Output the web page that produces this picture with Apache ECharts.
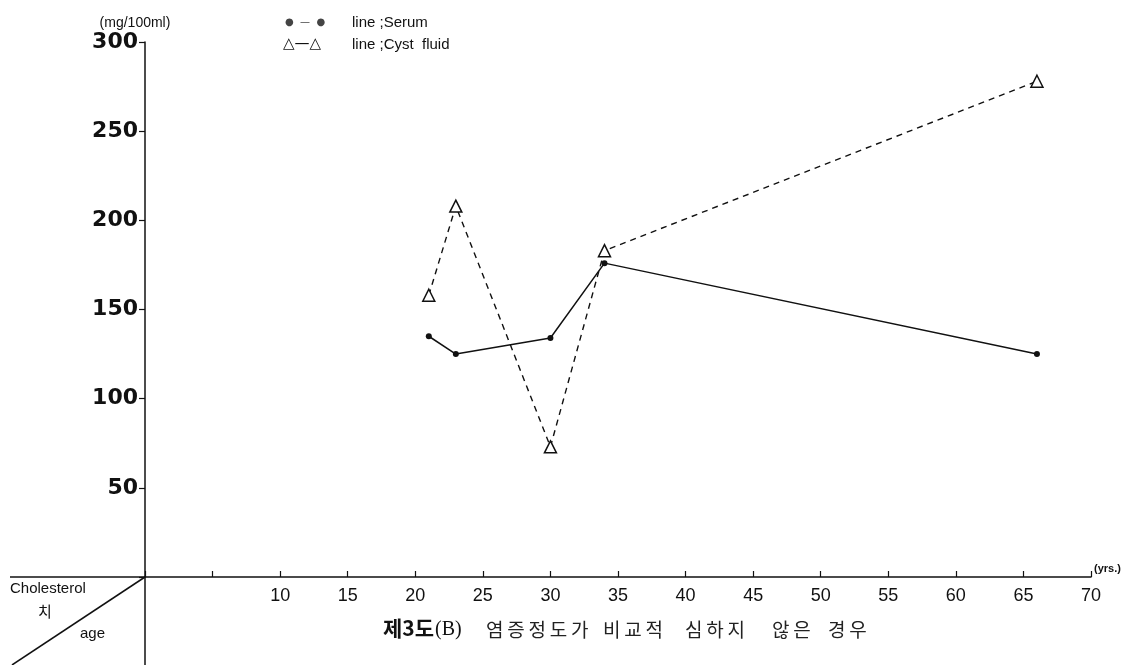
<!DOCTYPE html>
<html>
<head>
<meta charset="utf-8">
<script src="https://cdn.jsdelivr.net/npm/echarts@6/dist/echarts.min.js"></script>
<style>
  html, body { margin: 0; padding: 0; background: #fff; }
  #chart { width: 1144px; height: 665px; }
</style>
</head>
<body>
<div id="chart"></div>
<script>
// age (yrs.)
var ages = [21, 23, 30, 34, 66];
// cholesterol, mg/100ml
var serum = [135, 125, 134, 176, 125];
var cystFluid = [158, 208, 73, 183, 278];
var yTicks = [50, 100, 150, 200, 250, 300];
var xTicks = [10, 15, 20, 25, 30, 35, 40, 45, 50, 55, 60, 65, 70];
var captionWords = ['염증정도가', '비교적', '심하지', '않은', '경우'];

function pairs(xs, ys) {
  return xs.map(function (x, i) { return [x, ys[i]]; });
}

var chart = echarts.init(document.getElementById('chart'));
var ink = '#111';
var korFont = '"Noto Sans CJK KR", "Noto Sans", sans-serif';

// caption words, letter spaced like the printed figure
var captionLeft = [486, 603, 685, 772, 828];
var captionGraphics = captionWords.map(function (w, i) {
  return {
    type: 'text', left: captionLeft[i], top: 620,
    style: { text: w.split('').join('\u2009'), fontSize: 19, fill: '#222', fontFamily: korFont }
  };
});

chart.setOption({
  backgroundColor: '#fff',
  animation: false,
  grid: { left: 145, right: 53, top: 42, bottom: 88 },
  xAxis: {
    type: 'value',
    min: 0,
    max: 70,
    interval: 5,
    axisLine: { lineStyle: { color: ink, width: 1.5 } },
    axisTick: { inside: true, length: 6, lineStyle: { color: ink, width: 1.2 } },
    splitLine: { show: false },
    axisLabel: {
      color: ink,
      fontSize: 18,
      fontFamily: 'Liberation Sans Narrow, Liberation Sans, sans-serif',
      margin: 10,
      formatter: function (v) { return xTicks.indexOf(v) >= 0 ? String(v) : ''; }
    }
  },
  yAxis: {
    type: 'value',
    min: 0,
    max: 300,
    interval: 50,
    name: '(mg/100ml)',
    nameLocation: 'end',
    nameGap: 12,
    nameTextStyle: { color: ink, fontSize: 14, fontFamily: 'Liberation Sans, sans-serif', align: 'center', padding: [0, 0, 0, -20] },
    axisLine: { show: true, lineStyle: { color: ink, width: 1.5 } },
    axisTick: { show: true, length: 6, lineStyle: { color: ink, width: 1.2 } },
    splitLine: { show: false },
    axisLabel: {
      color: ink,
      fontSize: 22,
      fontWeight: 'bold',
      fontFamily: 'DejaVu Sans, sans-serif',
      margin: 7,
      formatter: function (v) { return yTicks.indexOf(v) >= 0 ? String(v) : ''; }
    }
  },
  series: [
    {
      name: 'Serum',
      type: 'line',
      data: pairs(ages, serum),
      symbol: 'circle',
      symbolSize: 6,
      lineStyle: { color: ink, width: 1.5, type: 'solid' },
      itemStyle: { color: ink }
    },
    {
      name: 'Cyst fluid',
      type: 'line',
      data: pairs(ages, cystFluid),
      symbol: 'triangle',
      symbolSize: 12,
      z: 3,
      lineStyle: { color: ink, width: 1.4, type: [6, 5] },
      itemStyle: { color: '#fff', borderColor: ink, borderWidth: 1.5 }
    }
  ],
  graphic: [
    // legend
    { type: 'text', left: 285, top: 17, style: { text: '●  —  ●', fontSize: 10, fill: '#444', fontFamily: 'DejaVu Sans, sans-serif' } },
    { type: 'text', left: 352, top: 15, style: { text: 'line ;Serum', fontSize: 15, fill: ink, fontFamily: 'Liberation Sans, sans-serif' } },
    { type: 'text', left: 283, top: 37, style: { text: '△—△', fontSize: 15, fill: ink, fontFamily: 'DejaVu Sans, sans-serif' } },
    { type: 'text', left: 352, top: 37, style: { text: 'line ;Cyst  fluid', fontSize: 15, fill: ink, fontFamily: 'Liberation Sans, sans-serif' } },
    // units of x
    { type: 'text', left: 1094, top: 563, style: { text: '(yrs.)', fontSize: 11, fontWeight: 'bold', fill: ink, fontFamily: 'Liberation Sans, sans-serif' } },
    // corner box
    { type: 'line', shape: { x1: 10, y1: 577, x2: 145, y2: 577 }, style: { stroke: ink, lineWidth: 1.5 } },
    { type: 'line', shape: { x1: 145, y1: 577, x2: 145, y2: 665 }, style: { stroke: ink, lineWidth: 1.5 } },
    { type: 'line', shape: { x1: 12, y1: 665, x2: 145, y2: 577 }, style: { stroke: ink, lineWidth: 1.5 } },
    { type: 'text', left: 10, top: 581, style: { text: 'Cholesterol', fontSize: 15, fill: ink, fontFamily: 'Liberation Sans, sans-serif' } },
    { type: 'text', left: 38, top: 604, style: { text: '치', fontSize: 15, fill: ink, fontFamily: korFont } },
    { type: 'text', left: 80, top: 626, style: { text: 'age', fontSize: 15, fill: ink, fontFamily: 'Liberation Sans, sans-serif' } },
    // caption
    { type: 'text', left: 383, top: 618, style: { text: '제3도', fontSize: 21, fontWeight: 'bold', fill: ink, fontFamily: korFont } },
    { type: 'text', left: 435, top: 620, style: { text: '(B)', fontSize: 20, fill: ink, fontFamily: '"Liberation Serif", serif' } }
  ].concat(captionGraphics)
});
</script>
</body>
</html>
